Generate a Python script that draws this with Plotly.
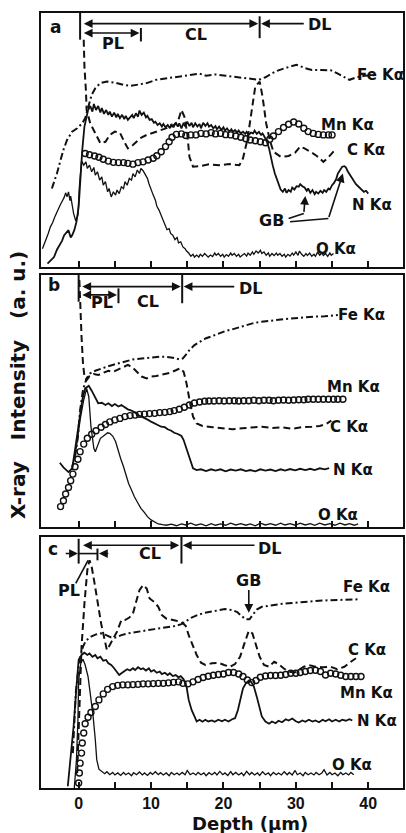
import plotly.graph_objects as go

# ---------------- DATA (depth in µm, intensity in a.u. 0-100 per panel) ----------------
# Panel a
a_Fe_x = [-3.7,-3.0,-2.5,-2.1,-1.6,-0.9,-0.2,0.5,0.9,1.4,1.8,2.3,3.0,3.9,5.0,6.2,7.1,8.0,9.4,10.7,12.1,13.5,14.8,16.7,17.6,18.9,20.3,22.1,24.0,24.9,25.8,27.2,28.5,29.5,30.1,31.3,32.2,33.5,34.9,35.8,36.8,37.4,38.4,39.5,40.9]
a_Fe_y = [30.9,36.8,42.1,46.1,50.0,53.3,54.6,56.6,58.6,63.2,67.8,70.4,72.4,73.0,72.6,71.7,71.3,71.7,72.4,73.7,74.3,75.0,75.5,76.1,75.3,75.8,75.3,74.7,74.2,73.7,74.7,77.0,78.3,79.2,79.6,78.3,77.6,77.6,77.4,76.1,74.7,73.7,74.7,75.3,75.5]
a_Mn = [(0.9,44.7),(1.5,44.2),(2.2,43.7),(2.8,43.2),(3.4,42.4),(4.1,41.7),(4.8,41.2),(5.5,41.1),(6.2,41.1),(6.8,40.8),(7.5,40.5),(8.2,41.1),(8.9,41.4),(9.6,42.1),(10.3,42.8),(10.8,43.8),(11.4,45.4),(12.0,47.4),(12.5,49.3),(12.9,51.1),(13.5,52.2),(14.2,52.4),(14.8,51.8),(15.5,52.0),(16.2,52.0),(16.9,52.6),(17.6,52.4),(18.3,52.9),(18.9,52.4),(19.6,52.6),(20.3,52.1),(21.0,52.0),(21.7,51.6),(22.4,51.1),(23.1,50.5),(23.7,50.0),(24.4,49.7),(25.1,49.3),(25.8,48.9),(26.4,50.3),(26.9,51.6),(27.6,53.3),(28.3,54.9),(29.0,56.2),(29.7,57.1),(30.4,56.3),(31.1,54.6),(31.7,53.3),(32.4,52.6),(33.1,52.2),(33.8,52.0),(34.5,52.0),(35.0,52.0)]
a_C = [(0.7,89.5),(0.8,78.9),(1.0,69.7),(1.1,61.8),(1.6,56.6),(2.3,52.6),(3.0,48.7),(3.7,49.3),(4.3,52.0),(5.0,53.3),(5.7,52.9),(6.3,49.3),(6.8,46.7),(7.5,48.0),(8.5,50.7),(9.4,52.0),(10.3,52.9),(11.2,53.9),(12.1,54.9),(13.0,55.5),(13.7,57.2),(14.2,61.8),(14.6,59.2),(15.0,52.6),(15.3,43.4),(15.8,39.5),(16.7,39.7),(18.0,40.4),(19.4,40.1),(20.8,40.5),(22.2,40.1),(22.7,42.8),(23.3,50.0),(23.9,61.8),(24.4,71.1),(25.0,73.0),(25.4,67.1),(25.9,56.6),(26.4,50.0),(26.9,45.4),(27.9,43.4),(29.0,43.7),(29.9,45.0),(30.6,47.4),(31.2,46.7),(32.0,45.4),(32.9,43.7),(33.8,41.4),(34.5,43.2),(35.4,46.1)]
a_N = [(-4.3,1.3),(-3.9,2.4),(-3.4,3.9),(-3.0,6.8),(-2.6,8.6),(-2.3,10.3),(-2.0,12.5),(-1.7,13.4),(-1.4,14.5),(-1.1,11.6),(-0.9,12.5),(-0.6,14.5),(-0.3,17.8),(0.0,23.7),(0.2,32.9),(0.5,46.1),(0.8,55.3),(1.1,59.9),(1.3,61.8),(1.6,63.4),(1.9,61.2),(2.1,64.2),(2.4,61.8),(2.7,63.4),(3.0,60.8),(3.2,62.6),(3.5,60.3),(3.8,61.8),(4.1,59.9),(4.3,61.2),(4.6,59.2),(4.9,60.8),(5.2,58.9),(5.4,60.3),(5.7,58.6),(6.0,59.9),(6.3,58.2),(6.5,59.5),(6.8,57.9),(7.1,58.9),(7.4,59.9),(7.6,58.6),(7.9,60.5),(8.2,59.2),(8.4,61.6),(8.7,59.9),(9.0,60.8),(9.3,58.9),(9.5,59.5),(9.8,57.9),(10.1,58.2),(10.4,56.8),(10.6,57.2),(10.9,55.9),(11.2,56.6),(11.5,55.3),(11.7,56.3),(12.0,55.0),(12.3,55.9),(12.6,54.6),(12.8,56.3),(13.1,55.0),(13.4,56.8),(13.7,55.3),(13.9,56.6),(14.2,54.6),(14.5,56.8),(14.7,55.3),(15.0,57.2),(15.3,55.5),(15.6,56.8),(15.8,55.0),(16.1,56.6),(16.4,55.3),(16.7,56.3),(16.9,54.6),(17.2,56.8),(17.5,55.5),(17.8,56.6),(18.0,55.3),(18.3,55.9),(18.6,54.6),(18.9,55.5),(19.1,54.2),(19.4,55.3),(19.7,53.9),(20.0,55.0),(20.2,53.7),(20.5,54.6),(20.8,53.3),(21.1,54.2),(21.3,53.2),(21.6,53.9),(21.9,52.9),(22.1,53.7),(22.4,52.6),(22.7,53.3),(23.0,52.4),(23.2,53.2),(23.5,52.0),(23.8,52.9),(24.1,52.6),(24.3,53.7),(24.6,52.4),(24.9,53.2),(25.2,52.0),(25.4,52.6),(25.7,51.1),(26.0,49.3),(26.3,46.7),(26.5,43.4),(26.8,40.1),(27.1,36.8),(27.4,34.2),(27.6,32.2),(27.9,30.5),(28.2,29.6),(28.5,30.9),(28.7,29.2),(29.0,30.3),(29.3,29.6),(29.5,31.3),(29.8,30.5),(30.1,31.8),(30.4,31.6),(30.6,32.6),(30.9,31.8),(31.2,31.3),(31.5,30.0),(31.7,30.9),(32.0,29.2),(32.3,30.3),(32.6,28.7),(32.8,29.6),(33.1,28.9),(33.4,30.0),(33.7,29.2),(33.9,30.3),(34.2,29.6),(34.5,30.9),(34.7,30.5),(35.0,32.2),(35.3,33.2),(35.6,34.9),(35.8,36.8),(36.1,38.4),(36.4,39.5),(36.7,39.7),(36.9,39.2),(37.2,37.5),(37.5,36.2),(37.8,34.9),(38.0,33.6),(38.3,32.6),(38.6,31.8),(38.9,30.9),(39.1,30.5),(39.4,29.6),(39.7,30.0),(40.0,28.9)]
a_O = [(-5.0,7.2),(-4.7,9.2),(-4.4,11.2),(-4.2,13.2),(-3.9,15.8),(-3.6,17.4),(-3.3,19.7),(-3.1,21.1),(-2.8,23.0),(-2.5,24.7),(-2.2,26.3),(-2.0,27.4),(-1.8,29.2),(-1.6,27.6),(-1.4,29.6),(-1.2,26.1),(-1.1,27.9),(-0.9,24.3),(-0.7,21.1),(-0.4,18.2),(-0.1,20.4),(0.1,31.6),(0.4,41.8),(0.7,40.1),(1.0,41.4),(1.2,38.8),(1.5,40.1),(1.8,37.5),(2.1,39.2),(2.3,36.2),(2.6,37.5),(2.9,34.2),(3.2,35.5),(3.4,32.2),(3.7,33.6),(4.0,29.6),(4.2,30.9),(4.5,27.6),(4.8,29.6),(5.1,28.3),(5.3,30.3),(5.6,28.9),(5.9,31.6),(6.2,30.9),(6.4,33.6),(6.7,32.2),(7.0,34.9),(7.3,34.2),(7.5,36.8),(7.8,35.5),(8.1,38.2),(8.4,36.8),(8.6,38.8),(8.9,37.9),(9.2,36.2),(9.5,34.9),(9.7,32.9),(10.0,30.3),(10.3,28.3),(10.6,26.3),(10.8,23.9),(11.1,22.4),(11.4,20.4),(11.6,18.7),(11.9,16.4),(12.2,14.7),(12.5,15.1),(12.7,13.2),(13.0,12.5),(13.3,10.8),(13.6,11.6),(13.8,9.5),(14.1,9.9),(14.4,7.9),(14.7,7.2),(14.9,6.3),(15.2,5.5),(15.5,4.2),(15.8,5.0),(16.0,3.9),(16.3,4.7),(16.6,3.9),(16.8,5.0),(17.1,4.2),(17.4,5.3),(17.7,4.5),(17.9,3.9),(18.2,4.7),(18.5,4.1),(18.8,5.5),(19.0,4.6),(19.3,5.3),(19.6,4.2),(19.9,5.0),(20.1,3.9),(20.4,4.9),(20.7,4.2),(21.0,5.5),(21.2,4.6),(21.5,5.3),(21.8,4.2),(22.1,5.0),(22.3,3.9),(22.6,4.6),(22.9,5.3),(23.2,4.3),(23.4,5.5),(23.7,4.6),(24.0,5.9),(24.2,5.0),(24.5,6.3),(24.8,5.5),(25.1,6.6),(25.3,5.3),(25.6,5.9),(25.9,4.6),(26.2,5.5),(26.4,4.2),(26.7,5.3),(27.0,4.5),(27.3,5.5),(27.5,4.6),(27.8,5.3),(28.1,4.2),(28.4,5.0),(28.6,3.9),(28.9,5.0),(29.2,4.3),(29.5,5.5),(29.7,4.7),(30.0,5.9),(30.3,4.6),(30.5,6.3),(30.8,5.0),(31.1,4.2),(31.4,5.3),(31.6,4.5),(31.9,5.5),(32.2,4.2),(32.5,5.0),(32.7,4.2),(33.0,5.8),(33.3,4.6),(33.6,5.5),(33.8,4.5),(34.1,5.3),(34.4,4.2),(34.7,5.5),(34.9,4.6),(35.2,5.3)]

# Panel b
b_Fe = [(-0.5,27.9),(-0.1,35.8),(0.2,46.4),(0.6,54.4),(1.1,59.0),(1.6,61.0),(2.3,62.0),(3.0,62.8),(3.9,63.6),(4.8,64.4),(5.7,65.2),(6.6,66.0),(7.5,66.5),(8.4,66.8),(9.4,67.1),(10.3,67.3),(11.2,67.6),(12.1,67.5),(13.0,67.2),(13.9,66.5),(14.4,66.9),(14.8,68.3),(15.3,70.2),(16.0,72.2),(16.7,73.5),(17.6,74.9),(18.5,75.8),(19.4,76.9),(20.3,77.8),(21.2,78.4),(22.1,79.2),(23.1,80.0),(24.0,80.8),(24.9,81.3),(25.8,81.7),(27.2,82.1),(28.5,82.5),(29.9,82.9),(31.3,83.2),(32.6,83.5),(34.0,83.6),(34.9,83.9),(35.8,84.1)]
b_C = [(0.1,98.0),(0.2,88.8),(0.4,75.5),(0.6,64.9),(0.8,59.7),(1.1,58.3),(1.5,59.9),(2.1,60.7),(2.7,60.3),(3.4,61.2),(4.1,62.0),(4.8,61.6),(5.5,62.6),(6.2,63.4),(6.8,64.3),(7.4,63.4),(8.0,61.6),(8.7,59.7),(9.4,59.0),(10.0,59.7),(10.7,59.9),(11.6,60.4),(12.6,61.2),(13.5,62.3),(14.0,63.0),(14.5,61.6),(14.9,57.0),(15.4,49.1),(15.8,43.8),(16.3,41.1),(17.1,40.1),(18.5,39.6),(19.9,39.2),(21.2,38.8),(22.6,39.2),(24.0,39.6),(25.3,39.8),(26.7,39.3),(28.1,39.6),(29.5,39.0),(30.8,39.6),(32.2,39.8),(33.3,40.1),(34.2,40.9),(34.9,42.2)]
b_Mn = [(-2.5,8.1),(-2.1,10.4),(-1.8,13.1),(-1.4,15.7),(-1.1,18.4),(-0.8,21.0),(-0.5,23.9),(-0.1,26.9),(0.2,29.9),(0.7,32.9),(1.2,35.2),(1.8,36.8),(2.4,38.2),(3.1,39.6),(3.7,40.7),(4.3,41.7),(5.0,42.5),(5.7,43.1),(6.4,43.8),(7.1,44.2),(7.8,44.4),(8.4,44.7),(9.1,44.8),(9.8,45.0),(10.5,45.1),(11.2,45.4),(11.9,45.5),(12.6,45.8),(13.2,46.2),(13.9,46.7),(14.6,47.5),(15.3,48.4),(16.0,49.2),(16.7,49.6),(17.4,49.9),(18.0,50.0),(18.7,50.0),(19.4,50.1),(20.1,50.0),(20.8,50.1),(21.5,50.1),(22.1,50.0),(22.8,50.1),(23.5,50.1),(24.2,50.3),(24.9,50.1),(25.6,50.3),(26.3,50.3),(26.9,50.1),(27.6,50.3),(28.3,50.4),(29.0,50.3),(29.7,50.4),(30.4,50.5),(31.1,50.5),(31.7,50.7),(32.4,50.7),(33.1,50.7),(33.8,50.7),(34.5,50.7),(35.2,50.7),(35.8,50.7),(36.5,50.7)]
b_N = [(-2.6,25.5),(-2.1,23.7),(-1.4,21.8),(-0.9,23.3),(-0.5,30.6),(0.0,41.1),(0.5,50.4),(0.9,55.0),(1.4,56.0),(1.8,54.1),(2.3,51.1),(2.7,49.1),(3.2,49.3),(3.7,48.4),(4.1,49.1),(4.6,48.0),(5.0,48.8),(5.5,47.8),(5.9,48.4),(6.4,47.5),(6.8,46.7),(7.3,46.2),(7.8,45.4),(8.2,44.4),(8.7,43.8),(9.1,43.1),(9.6,42.5),(10.0,41.8),(10.5,41.1),(11.0,40.5),(11.4,39.8),(11.9,39.6),(12.3,38.8),(12.8,38.2),(13.2,37.4),(13.7,36.9),(14.2,36.1),(14.5,34.5),(14.8,31.9),(15.2,28.6),(15.5,25.5),(15.8,23.3),(16.3,22.6),(16.9,22.9),(17.6,22.2),(18.3,22.9),(18.9,22.4),(19.6,22.9),(20.3,22.1),(21.0,22.8),(21.7,22.4),(22.4,22.9),(23.1,22.2),(23.7,22.6),(24.4,22.1),(25.1,22.9),(25.8,22.4),(26.5,22.8),(27.2,22.2),(27.9,22.9),(28.5,22.4),(29.2,23.0),(29.9,22.5),(30.6,23.1),(31.3,22.6),(32.0,23.1),(32.6,22.6),(33.3,23.3),(34.0,22.9),(34.6,23.4)]
b_O = [(-0.9,22.6),(-0.3,31.9),(0.2,42.5),(0.7,50.4),(1.1,55.0),(1.4,51.7),(1.7,39.8),(2.1,31.2),(2.3,29.9),(2.6,31.9),(3.0,35.2),(3.3,35.8),(3.7,36.9),(4.0,37.4),(4.3,37.2),(4.7,36.1),(5.1,33.9),(5.4,30.6),(5.8,27.2),(6.2,23.9),(6.5,20.6),(6.9,17.3),(7.3,14.7),(7.7,12.0),(8.2,9.4),(8.6,7.4),(9.1,5.7),(9.5,4.1),(10.0,2.8),(10.5,1.9),(11.0,1.2),(11.6,0.9),(12.1,0.7),(12.8,1.1),(13.5,0.5),(14.2,1.2),(14.8,0.8),(15.5,1.5),(16.2,0.7),(16.9,1.2),(17.6,0.5),(18.3,1.3),(18.9,0.7),(19.6,1.2),(20.3,0.7),(21.0,1.5),(21.7,0.8),(22.4,1.3),(23.1,0.7),(23.7,1.2),(24.4,0.5),(25.1,1.5),(25.8,0.8),(26.5,1.3),(27.2,0.7),(27.9,1.5),(28.5,0.8),(29.2,1.3),(29.9,0.7),(30.6,1.5),(31.3,0.8),(32.0,1.3),(32.6,0.7),(33.3,1.5),(34.0,0.8),(34.7,1.3),(35.4,0.7),(36.1,1.5),(36.8,0.8),(37.4,1.3),(38.1,0.7),(38.6,1.2)]

# Panel c
c_Fe = [(-0.8,13.9),(-0.4,37.7),(0.1,51.0),(0.6,56.3),(1.0,58.7),(1.7,60.3),(2.4,61.2),(3.1,61.6),(3.8,60.9),(4.5,60.0),(5.2,60.0),(5.9,60.9),(6.8,61.6),(7.7,62.1),(8.7,62.5),(9.6,62.9),(10.5,63.3),(11.4,63.7),(12.4,64.0),(13.3,64.5),(14.2,65.3),(14.9,66.6),(15.6,67.9),(16.5,69.0),(17.4,69.8),(18.4,70.3),(19.3,70.9),(20.2,71.3),(21.2,70.9),(21.9,70.1),(22.5,68.5),(23.1,67.2),(23.6,67.2),(24.0,68.9),(24.6,71.1),(25.3,72.2),(26.3,72.7),(27.6,73.2),(29.0,73.6),(30.4,74.0),(31.8,74.3),(33.2,74.6),(34.6,74.8),(36.0,75.0),(37.4,75.1),(38.8,75.2)]
c_C = [(-0.2,6.0),(0.1,32.5),(0.4,56.3),(0.8,73.5),(1.2,86.8),(1.5,90.7),(1.8,88.1),(2.2,81.5),(2.6,74.2),(3.1,65.6),(3.6,58.9),(3.9,55.0),(4.3,57.0),(4.8,59.6),(5.3,62.3),(5.9,66.9),(6.4,66.9),(7.0,67.9),(7.5,69.5),(8.0,74.8),(8.4,78.8),(8.9,80.8),(9.4,79.5),(9.8,75.5),(10.4,74.2),(11.0,72.2),(11.5,68.9),(12.1,67.5),(12.8,66.9),(13.5,66.6),(14.2,66.2),(14.8,64.5),(15.2,60.9),(15.7,57.0),(16.3,53.0),(16.9,49.9),(17.5,49.0),(18.4,49.7),(19.3,49.9),(20.1,49.0),(20.9,48.3),(21.6,49.4),(22.3,52.3),(22.9,57.6),(23.5,62.6),(24.0,61.6),(24.4,57.6),(25.0,52.3),(25.6,49.0),(26.3,48.3),(27.0,50.3),(27.6,49.4),(28.3,47.7),(29.0,46.4),(29.8,46.0),(30.4,47.0),(31.1,48.3),(31.8,49.0),(32.7,48.3),(33.7,48.1),(34.8,48.3),(35.7,47.3),(36.7,48.3),(37.6,50.3),(38.3,51.7)]
c_Mn = [(0.0,2.0),(0.1,6.0),(0.2,9.9),(0.4,13.9),(0.5,17.9),(0.7,21.9),(0.9,25.6),(1.3,28.2),(1.7,30.1),(2.3,32.5),(2.8,35.1),(3.4,37.5),(4.0,39.3),(4.7,40.4),(5.4,40.9),(6.1,41.1),(6.8,41.1),(7.5,41.2),(8.2,41.3),(8.9,41.5),(9.6,41.5),(10.3,41.6),(11.0,41.7),(11.7,41.7),(12.4,41.9),(13.1,42.1),(13.8,42.3),(14.4,41.7),(15.1,41.5),(15.8,42.3),(16.5,43.2),(17.2,44.0),(17.9,44.5),(18.6,44.9),(19.3,45.2),(20.0,45.4),(20.7,46.0),(21.4,46.0),(22.1,45.4),(22.7,44.4),(23.3,43.0),(23.9,42.0),(24.5,42.8),(25.1,44.1),(25.8,44.6),(26.5,44.8),(27.2,44.8),(27.9,44.9),(28.6,45.2),(29.3,45.7),(30.0,45.7),(30.6,46.0),(31.3,46.4),(32.0,46.8),(32.7,46.9),(33.4,46.4),(34.1,45.0),(34.8,45.7),(35.5,45.4),(36.2,44.9),(36.9,44.4),(37.6,44.4),(38.3,44.4),(39.0,44.4)]
c_N = [(-1.5,0.7),(-1.1,11.3),(-0.7,24.5),(-0.3,40.4),(0.0,51.0),(0.4,53.0),(0.8,53.9),(1.2,53.0),(1.5,53.6),(1.9,52.3),(2.3,53.0),(2.6,51.7),(3.0,52.3),(3.4,50.7),(3.8,51.0),(4.1,49.7),(4.5,49.0),(4.9,47.7),(5.2,46.4),(5.6,45.0),(6.0,45.9),(6.3,46.4),(6.7,47.3),(7.1,46.8),(7.5,47.7),(7.8,47.0),(8.2,48.1),(8.6,47.3),(8.9,47.7),(9.3,46.8),(9.7,47.7),(10.0,46.4),(10.4,47.0),(10.8,45.9),(11.2,46.4),(11.5,45.4),(11.9,45.9),(12.3,45.0),(12.6,45.7),(13.0,44.6),(13.4,45.0),(13.8,44.1),(14.1,44.6),(14.5,43.3),(14.9,40.4),(15.2,35.1),(15.6,31.1),(16.0,28.5),(16.3,26.5),(16.7,27.2),(17.1,26.4),(17.5,27.2),(17.9,26.5),(18.4,26.9),(18.8,26.4),(19.3,27.2),(19.8,26.6),(20.2,27.2),(20.7,26.5),(21.2,27.4),(21.6,27.8),(22.0,31.1),(22.4,36.4),(22.7,39.7),(23.1,41.7),(23.5,42.8),(23.8,42.4),(24.2,40.4),(24.6,36.4),(25.0,31.8),(25.3,28.5),(25.8,26.5),(26.3,25.6),(26.7,26.5),(27.2,25.8),(27.6,26.8),(28.1,26.2),(28.6,27.4),(29.0,26.9),(29.5,27.7),(30.0,26.6),(30.4,26.1),(30.9,26.9),(31.3,26.4),(31.8,27.2),(32.3,26.5),(32.7,26.9),(33.2,26.2),(33.7,27.2),(34.1,26.6),(34.6,27.4),(35.0,26.5),(35.5,27.2),(36.0,26.5),(36.4,27.2),(36.9,26.8),(37.4,27.4),(37.8,26.9)]
c_O = [(-0.6,0.0),(-0.3,11.3),(-0.1,27.2),(0.0,43.0),(0.3,49.7),(0.6,51.3),(0.9,49.0),(1.3,44.4),(1.6,37.7),(2.0,28.5),(2.3,19.2),(2.5,11.3),(2.8,7.5),(3.2,6.6),(3.6,5.7),(3.9,6.5),(4.3,5.3),(4.7,6.2),(5.0,5.2),(5.4,6.0),(5.8,5.0),(6.2,6.2),(6.5,5.3),(6.9,6.0),(7.3,4.9),(7.6,6.1),(8.0,5.3),(8.4,6.4),(8.8,5.2),(9.1,6.0),(9.5,5.0),(9.9,6.2),(10.2,5.4),(10.6,6.5),(11.0,5.3),(11.3,6.1),(11.7,5.2),(12.1,6.0),(12.5,4.9),(12.8,6.2),(13.2,5.3),(13.6,6.0),(13.9,5.2),(14.3,6.2),(14.7,5.3),(15.0,7.0),(15.4,5.3),(15.8,6.0),(16.2,5.2),(16.5,6.2),(16.9,5.3),(17.3,6.0),(17.6,4.9),(18.0,6.1),(18.4,5.3),(18.8,6.2),(19.1,5.2),(19.5,6.6),(19.9,5.3),(20.2,6.0),(20.6,5.0),(21.0,6.5),(21.3,5.3),(21.7,6.2),(22.1,5.2),(22.5,6.0),(22.8,4.9),(23.2,6.6),(23.6,5.3),(23.9,6.2),(24.3,5.2),(24.7,6.0),(25.0,5.0),(25.4,6.5),(25.8,5.3),(26.2,6.0),(26.5,4.9),(26.9,6.2),(27.3,5.3),(27.6,6.0),(28.0,5.2),(28.4,6.5),(28.8,5.3),(29.1,6.2),(29.5,5.2),(29.9,7.0),(30.2,5.3),(30.6,6.0),(31.0,4.9),(31.3,6.2),(31.7,5.3),(32.1,6.0),(32.5,5.2),(32.8,6.2),(33.2,5.3),(33.6,6.0),(33.9,7.3),(34.3,5.2),(34.7,6.2),(35.0,5.3),(35.4,6.0),(35.8,4.9),(36.2,6.2),(36.5,5.3),(36.9,6.0),(37.3,5.2),(37.6,6.2),(38.0,5.3)]

tick_vals = [0, 5, 10, 15, 20, 25, 30, 35, 40]
tick_text = ["0", "", "10", "", "20", "", "30", "", "40"]

# ---------------- FIGURE ----------------
BLACK = "#111111"
FONT = "DejaVu Sans"
TICKFONT = "Liberation Sans"
AX = {"a": ("x3", "y3"), "b": ("x2", "y2"), "c": ("x", "y")}

fig = go.Figure()


def xy(pairs):
    return [p[0] for p in pairs], [p[1] for p in pairs]


def add_panel(p, fe_x, fe_y, c, mn, n, o):
    xr, yr = AX[p]
    fig.add_trace(go.Scatter(x=fe_x, y=fe_y, mode="lines", xaxis=xr, yaxis=yr,
                             line=dict(color=BLACK, width=2, dash="7px,3px,2px,3px")))
    cx, cy = xy(c)
    fig.add_trace(go.Scatter(x=cx, y=cy, mode="lines", xaxis=xr, yaxis=yr,
                             line=dict(color=BLACK, width=2, dash="7px,4px")))
    nx, ny = xy(n)
    fig.add_trace(go.Scatter(x=nx, y=ny, mode="lines", xaxis=xr, yaxis=yr,
                             line=dict(color=BLACK, width=1.8)))
    ox, oy = xy(o)
    fig.add_trace(go.Scatter(x=ox, y=oy, mode="lines", xaxis=xr, yaxis=yr,
                             line=dict(color=BLACK, width=1.3)))
    mx, my = xy(mn)
    fig.add_trace(go.Scatter(x=mx, y=my, mode="markers", xaxis=xr, yaxis=yr,
                             marker=dict(symbol="circle-open", size=6, color=BLACK,
                                         line=dict(width=1.4, color=BLACK))))


add_panel("a", a_Fe_x, a_Fe_y, a_C, a_Mn, a_N, a_O)
add_panel("b", *xy(b_Fe), b_C, b_Mn, b_N, b_O)
add_panel("c", *xy(c_Fe), c_C, c_Mn, c_N, c_O)


def label(p, x, y, text, size=15):
    xr, yr = AX[p]
    fig.add_annotation(x=x, y=y, xref=xr, yref=yr, text="<b>" + text + "</b>",
                       showarrow=False, font=dict(family=FONT, size=size, color=BLACK))


def arrow(p, x0, y0, x1, y1, both=False):
    xr, yr = AX[p]
    fig.add_annotation(x=x1, y=y1, ax=x0, ay=y0, xref=xr, yref=yr, axref=xr, ayref=yr,
                       text="", showarrow=True, arrowhead=2, arrowsize=1.1, arrowwidth=1.6,
                       arrowcolor=BLACK, arrowside="end+start" if both else "end",
                       standoff=0, startstandoff=0)


def seg(p, x0, y0, x1, y1, w=2):
    xr, yr = AX[p]
    fig.add_shape(type="line", xref=xr, yref=yr, x0=x0, y0=y0, x1=x1, y1=y1,
                  line=dict(color=BLACK, width=w))


# panel a annotations
seg("a", 0.2, 89.5, 0.2, 100)
seg("a", 25.0, 90.1, 25.0, 98.7)
seg("a", 8.6, 88.8, 8.6, 94.1)
arrow("a", 0.5, 95.8, 24.8, 95.8, both=True)
arrow("a", 31.3, 95.8, 25.2, 95.8)
arrow("a", 0.5, 92.1, 8.4, 92.1, both=True)
label("a", -3.2, 94.5, "a", 17)
label("a", 4.8, 88.0, "PL", 16)
label("a", 16.2, 91.4, "CL", 16)
label("a", 33.3, 95.4, "DL", 16)
label("a", 26.7, 18.4, "GB", 16)
seg("a", 29.0, 19.1, 31.1, 21.1, 1.6)
arrow("a", 31.1, 21.1, 31.3, 28.0)
seg("a", 29.2, 17.8, 34.5, 19.1, 1.6)
arrow("a", 34.5, 19.1, 36.5, 36.8)
label("a", 41.7, 75.7, "Fe Kα")
label("a", 37.2, 55.9, "Mn Kα")
label("a", 39.7, 46.1, "C Kα")
label("a", 40.5, 24.3, "N Kα")
label("a", 35.6, 7.2, "O Kα")

# panel b annotations
seg("b", 0.0, 89.4, 0.0, 100)
seg("b", 14.3, 88.8, 14.3, 100)
seg("b", 5.5, 88.8, 5.5, 94.7)
arrow("b", 0.3, 95.4, 14.1, 95.4, both=True)
arrow("b", 21.7, 95.4, 14.5, 95.4)
arrow("b", 0.3, 92.1, 5.3, 92.1, both=True)
label("b", -3.4, 96.0, "b", 17)
label("b", 3.2, 89.0, "PL", 16)
label("b", 9.6, 89.4, "CL", 16)
label("b", 23.7, 94.7, "DL", 16)
label("b", 39.0, 84.1, "Fe Kα")
label("b", 37.9, 55.7, "Mn Kα")
label("b", 37.3, 39.8, "C Kα")
label("b", 37.9, 22.6, "N Kα")
label("b", 35.8, 4.6, "O Kα")

# panel c annotations
seg("c", 0.0, 89.4, 0.0, 99.3)
seg("c", 14.2, 89.4, 14.2, 100)
seg("c", 2.6, 90.7, 2.6, 95.4)
seg("c", 0.0, 93.4, 2.6, 93.4, 1.6)
arrow("c", 0.4, 96.7, 13.9, 96.7, both=True)
arrow("c", 24.5, 96.7, 14.4, 96.7)
arrow("c", -2.0, 93.4, -0.1, 93.4)
arrow("c", 4.3, 93.4, 2.8, 93.4)
seg("c", -0.4, 81.5, 1.3, 90.7, 1.6)
label("c", -3.6, 95.4, "c", 17)
label("c", -1.3, 78.8, "PL", 16)
label("c", 9.8, 93.4, "CL", 16)
label("c", 26.3, 95.4, "DL", 16)
label("c", 23.5, 82.8, "GB", 16)
arrow("c", 23.5, 79.5, 23.5, 69.8)
label("c", 39.7, 80.1, "Fe Kα")
label("c", 39.8, 55.0, "C Kα")
label("c", 39.7, 37.7, "Mn Kα")
label("c", 41.2, 26.5, "N Kα")
label("c", 37.7, 9.3, "O Kα")

# axis titles
sp = "\u00a0\u00a0\u00a0"
fig.add_annotation(x=18 / 406, y=1 - 385 / 833, xref="paper", yref="paper", textangle=-90,
                   text="<b>X-ray" + sp + "Intensity" + sp + "(a.\u00a0u.)</b>", showarrow=False,
                   xanchor="center", yanchor="middle",
                   font=dict(family=FONT, size=20, color=BLACK))
fig.add_annotation(x=250 / 406, y=1 - 823 / 833, xref="paper", yref="paper",
                   text="<b>Depth (µm)</b>", showarrow=False, xanchor="center", yanchor="middle",
                   font=dict(family=FONT, size=18, color=BLACK))

xdom = [41 / 406, 403 / 406]
doms = {"a": [1 - 267 / 833, 1 - 13 / 833], "b": [1 - 527 / 833, 1 - 275 / 833],
        "c": [1 - 788 / 833, 1 - 537 / 833]}

common_x = dict(range=[-5.2, 44.8], showgrid=False, zeroline=False, showline=True, mirror=True,
                linecolor=BLACK, linewidth=2, ticks="inside", ticklen=6, tickwidth=1.6,
                tickcolor=BLACK, tickvals=tick_vals, domain=xdom)
common_y = dict(range=[0, 100], showgrid=False, zeroline=False, showline=True, mirror=True,
                linecolor=BLACK, linewidth=2, showticklabels=False, ticks="")

fig.update_layout(
    width=406, height=833, margin=dict(l=0, r=0, t=0, b=0),
    paper_bgcolor="white", plot_bgcolor="white", showlegend=False,
    xaxis=dict(**common_x, ticktext=["<b>" + t + "</b>" if t else "" for t in tick_text],
               tickfont=dict(family=TICKFONT, size=16, color=BLACK), ticklabelstandoff=0,
               anchor="y"),
    xaxis2=dict(**common_x, showticklabels=False, anchor="y2"),
    xaxis3=dict(**common_x, showticklabels=False, anchor="y3"),
    yaxis=dict(**common_y, domain=doms["c"], anchor="x"),
    yaxis2=dict(**common_y, domain=doms["b"], anchor="x2"),
    yaxis3=dict(**common_y, domain=doms["a"], anchor="x3"),
)

fig.write_html("out.html")
